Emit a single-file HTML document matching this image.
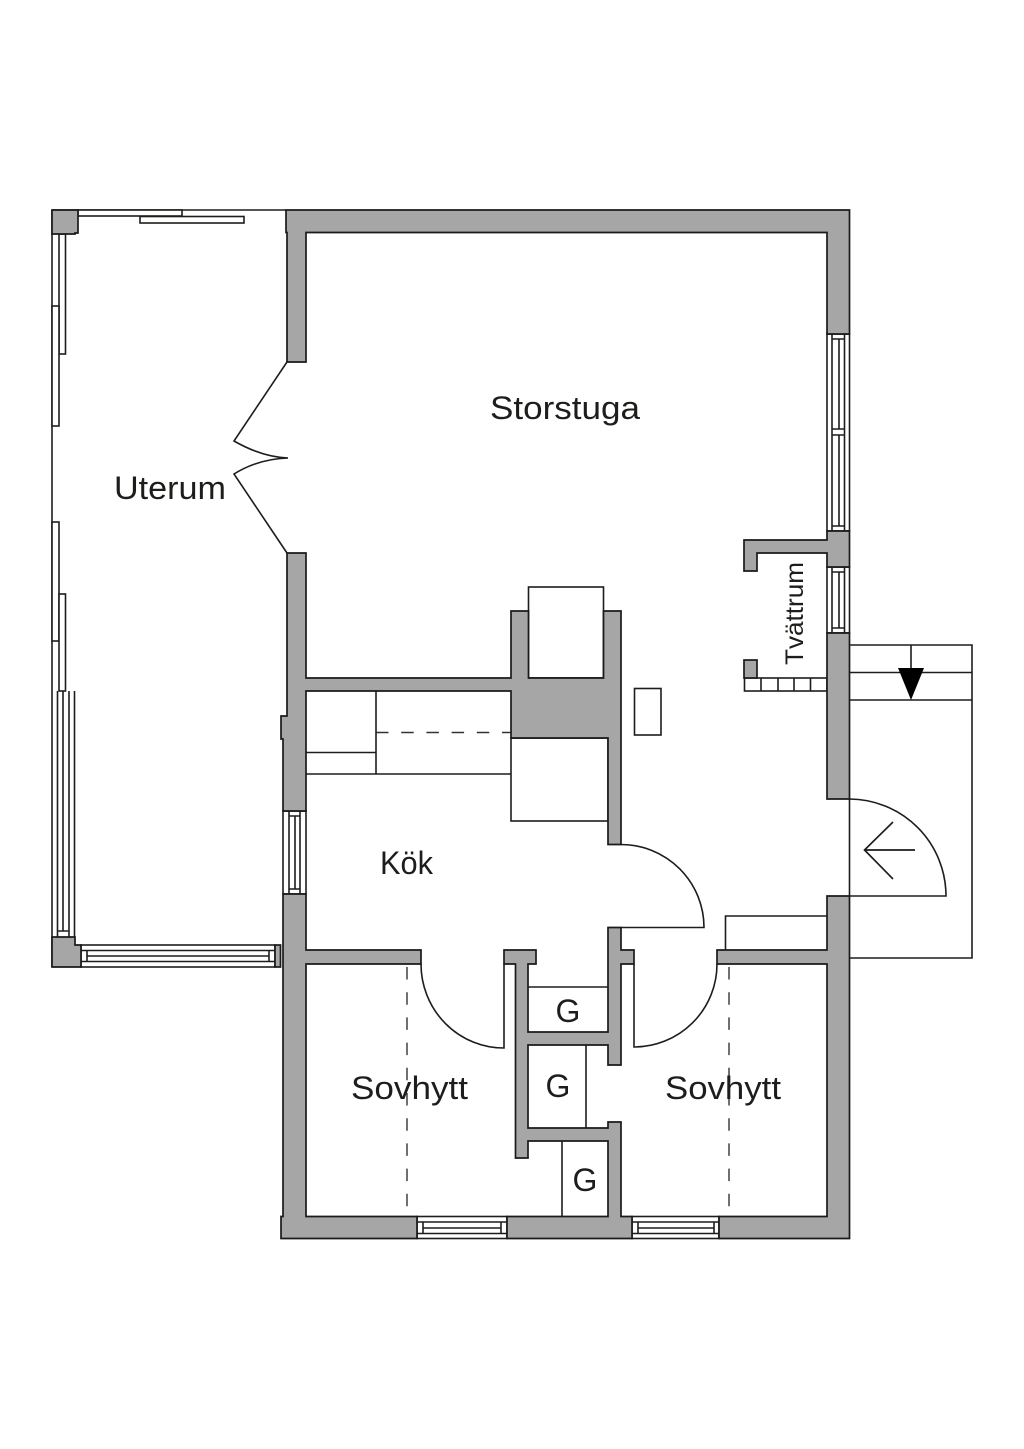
<!DOCTYPE html>
<html>
<head>
<meta charset="utf-8">
<style>
html,body{margin:0;padding:0;background:#fff;width:1024px;height:1449px;overflow:hidden}
svg{display:block}
.w{fill:#a6a6a6;stroke:#1a1a1a;stroke-width:1.7}
.l{fill:none;stroke:#1d1d1b;stroke-width:1.6}
.f{fill:#fff;stroke:#1d1d1b;stroke-width:1.6}
.d{fill:none;stroke:#333;stroke-width:1.4;stroke-dasharray:12.5 12.7}
text{font-family:"Liberation Sans",sans-serif;fill:#1d1d1b;font-size:32px}
</style>
</head>
<body>
<svg width="1024" height="1449" viewBox="0 0 1024 1449" xmlns="http://www.w3.org/2000/svg">
<rect width="1024" height="1449" fill="#fff"/>

<!-- dashed lines -->
<path class="d" style="stroke-dashoffset:22.2" d="M407 964V1208"/>
<path class="d" style="stroke-dashoffset:22.2" d="M729 964V1208"/>
<path class="d" d="M376 732.5H511"/>

<!-- uterum outline -->
<path class="l" d="M52 210H286M52 210V967"/>
<rect class="f" x="78" y="210" width="104" height="6"/>
<rect class="f" x="140" y="216.500" width="104" height="6.500"/>
<rect class="f" x="59" y="234" width="6.500" height="120"/>
<rect class="f" x="52" y="306" width="7" height="120"/>
<rect class="f" x="52" y="522" width="7" height="119"/>
<rect class="f" x="59" y="594" width="6.500" height="97"/>
<path class="l" d="M57.500 691V937M63 691V931M69 691V937M74.500 691V945M57.500 931H69"/>

<!-- uterum bottom window -->
<rect class="f" x="81" y="945" width="194" height="22"/>
<path class="l" d="M81 950.500H275M87 956H269M81 961.500H275M87 950.500V961.500M269 950.500V961.500"/>
<rect class="w" x="275" y="945" width="5.500" height="22"/>

<!-- steps -->
<path class="l" d="M849.500 645H972V958H849.500M849.500 672.500H972M849.500 700H972M911 645V668"/>
<path d="M898 668H924L911 700Z" fill="#000"/>

<!-- entry door -->
<path class="l" d="M849.500 799V896H946A97 97 0 0 0 849.500 799"/>
<path d="M915 850H864.500M893 822L864.500 850L893 879" fill="none" stroke="#1d1d1b" stroke-width="1.700"/>

<!-- closet box by entry -->
<path class="l" d="M725.500 950V916H827"/>

<!-- fixtures -->
<rect class="f" x="528.500" y="587" width="75" height="91"/>
<rect class="f" x="634.500" y="688.500" width="26.500" height="46.500"/>
<rect class="f" x="511" y="738" width="97" height="83"/>
<path class="l" d="M306 774H511M376 691V774M306 752.500H376"/>

<!-- tile row -->
<rect class="f" x="744.500" y="678" width="82.500" height="13"/>
<path class="l" d="M761 678V691M778 678V691M794 678V691M810.500 678V691"/>

<!-- closet lines -->
<path class="l" d="M528 987H608M586 1045V1128M562 1141V1216.500"/>

<!-- doors -->
<path class="l" d="M287 362L234 441Q262 457 288 458Q258 459 234 474L287 553"/>
<path class="l" d="M621 844.500A83 83 0 0 1 704 927.500H621"/>
<path class="l" d="M421 964A83 84 0 0 0 504 1048V964"/>
<path class="l" d="M717 964A83 83 0 0 1 634 1047V964"/>

<!-- right windows -->
<rect class="f" x="827" y="334" width="22.500" height="197"/>
<path class="l" d="M832 334V531M844.500 334V531M839 339V429M839 435V526M832 339H844.500M832 429H844.500M832 435H844.500M832 526H844.500"/>
<rect class="f" x="827" y="567" width="22.500" height="66"/>
<path class="l" d="M832 567V633M844.500 567V633M839 572V628M832 572H844.500M832 628H844.500"/>

<!-- left kitchen window -->
<rect class="f" x="283" y="811" width="23" height="83"/>
<path class="l" d="M289 811V894M300 811V894M295 816V889M289 816H300M289 889H300"/>

<!-- bottom windows -->
<rect class="f" x="417" y="1216.500" width="90" height="22"/>
<path class="l" d="M417 1222H507M423 1228H501M417 1233.500H507M423 1222V1233.500M501 1222V1233.500"/>
<rect class="f" x="632" y="1216.500" width="87" height="22"/>
<path class="l" d="M632 1222H719M638 1228H714M632 1233.500H719M638 1222V1233.500M714 1222V1233.500"/>

<!-- walls -->
<path class="w" d="M286 210H849.500V334H827V232.500H306V362H287V232.500H286Z"/>
<path class="w" d="M827 531H849.500V567H827V553H757V571H744V540H827Z"/>
<path class="w" d="M827 633H849.500V799H827Z"/>
<rect class="w" x="744" y="660" width="13" height="18"/>
<path class="w" d="M827 896H849.500V1238.500H719V1216.500H827V964H717V950H827Z"/>
<path class="w" d="M287 553H306V678H511V611H528.500V678H603.500V611H621V844.500H608V738H511V691H306V811H283V739H281V716H287Z"/>
<path class="w" d="M283 894H306V950H421V964H306V1216.500H417V1238.500H281V1216.500H283Z"/>
<path class="w" d="M504 950H536V964H528V1032H608V927.500H621V950H634V964H621V1065H608V1045H528V1128H608V1122H621V1216.500H632V1238.500H507V1216.500H608V1141H528V1158H515.500V964H504Z"/>
<path class="w" d="M52 210H78V233H75V234H52Z"/>
<path class="w" d="M52 937H75V945H81V967H52Z"/>

<!-- labels -->
<text x="490" y="419" textLength="150" lengthAdjust="spacingAndGlyphs">Storstuga</text>
<text x="114" y="499" textLength="112" lengthAdjust="spacingAndGlyphs">Uterum</text>
<text x="380" y="874" textLength="53" lengthAdjust="spacingAndGlyphs">Kök</text>
<text x="351" y="1099" textLength="117" lengthAdjust="spacingAndGlyphs">Sovhytt</text>
<text x="665" y="1099" textLength="116" lengthAdjust="spacingAndGlyphs">Sovhytt</text>
<text x="568" y="1022" text-anchor="middle">G</text>
<text x="558" y="1097" text-anchor="middle">G</text>
<text x="585" y="1191" text-anchor="middle">G</text>
<text transform="translate(803 665) rotate(-90)" style="font-size:25px" textLength="103" lengthAdjust="spacingAndGlyphs">Tvättrum</text>
</svg>
</body>
</html>
